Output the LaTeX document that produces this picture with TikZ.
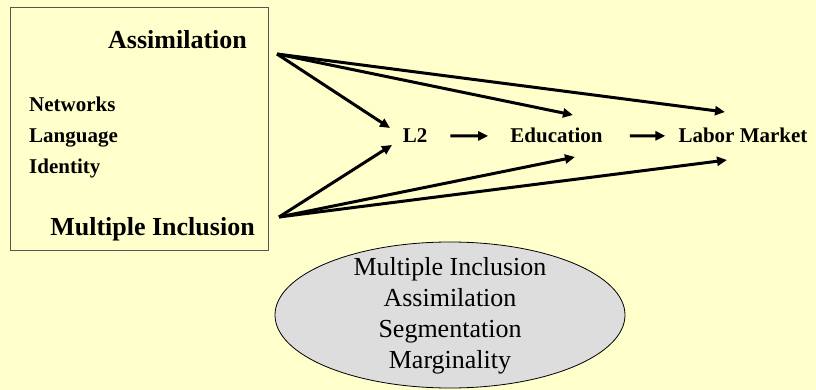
\documentclass[tikz,border=0pt]{standalone}
\usepackage{fontspec}
\setmainfont{Liberation Serif}
\usetikzlibrary{arrows.meta,shapes.geometric}
\definecolor{slidebg}{HTML}{FFFFCC}
\definecolor{bubblegray}{HTML}{DDDDDD}
\definecolor{boxline}{HTML}{555555}

\begin{document}
\begin{tikzpicture}[x=1pt, y=-1pt,
	big/.style={font=\fontsize{26}{31}\selectfont\bfseries, inner sep=0pt},
	small/.style={font=\fontsize{21}{25}\selectfont\bfseries, inner sep=0pt},
	arr/.style={-{Triangle[length=10pt,width=9pt]}, line width=3pt},
	bubble/.style={ellipse, draw, line width=0.8pt, fill=bubblegray, minimum width=350pt, minimum height=146pt, inner sep=0pt}]
	\fill[slidebg] (0,0) rectangle (816,390); % Hintergrund
	\useasboundingbox (0,0) rectangle (816,390);
	
	\draw[boxline, line width=1pt] (10,8) rectangle (268,250);
	\node[big, anchor=base] (assim) at (177.5,49) {Assimilation};
	\node[big, anchor=base] (multi) at (152.5,235) {Multiple Inclusion};
	
	\node[small, anchor=base west] (netw) at (29,112) {Networks};
	\node[small, anchor=base west] (lang) at (29,143) {Language};
	\node[small, anchor=base west] (ident) at (29,174) {Identity};
	
	\node[small, anchor=base] (ltwo) at (415,143) {L2};
	\node[small, anchor=base] (educ) at (556.5,143) {Education};
	\node[small, anchor=base] (labor) at (743,143) {Labor Market};
	
	\node[bubble] (pathways) at (450,315) {};
	\node[font=\fontsize{26}{31}\selectfont, align=center, inner sep=0pt] (pathtxt) at (450,316)
		{Multiple Inclusion\\Assimilation\\Segmentation\\Marginality};
	
	% Pfeile
	\coordinate (assout) at (277,54);
	\coordinate (multout) at (279,217);
	\coordinate (ltwoA) at (390,128);
	\coordinate (ltwoM) at (392,145);
	\coordinate (educA) at (573,115);
	\coordinate (educM) at (575,157);
	\coordinate (laborA) at (725,112);
	\coordinate (laborM) at (727,160);
	
	\draw[arr] (assout) -- (ltwoA);
	\draw[arr] (assout) -- (educA);
	\draw[arr] (assout) -- (laborA);
	\draw[arr] (multout) -- (ltwoM);
	\draw[arr] (multout) -- (educM);
	\draw[arr] (multout) -- (laborM);
	
	\draw[arr, shorten <=23pt, shorten >=22pt] (ltwo.east) -- (educ.west);
	\draw[arr, shorten <=27pt, shorten >=13pt] (educ.east) -- (labor.west);
	
	%\draw[help lines, step=50] (0,0) grid (816,390);
\end{tikzpicture}
\end{document}
